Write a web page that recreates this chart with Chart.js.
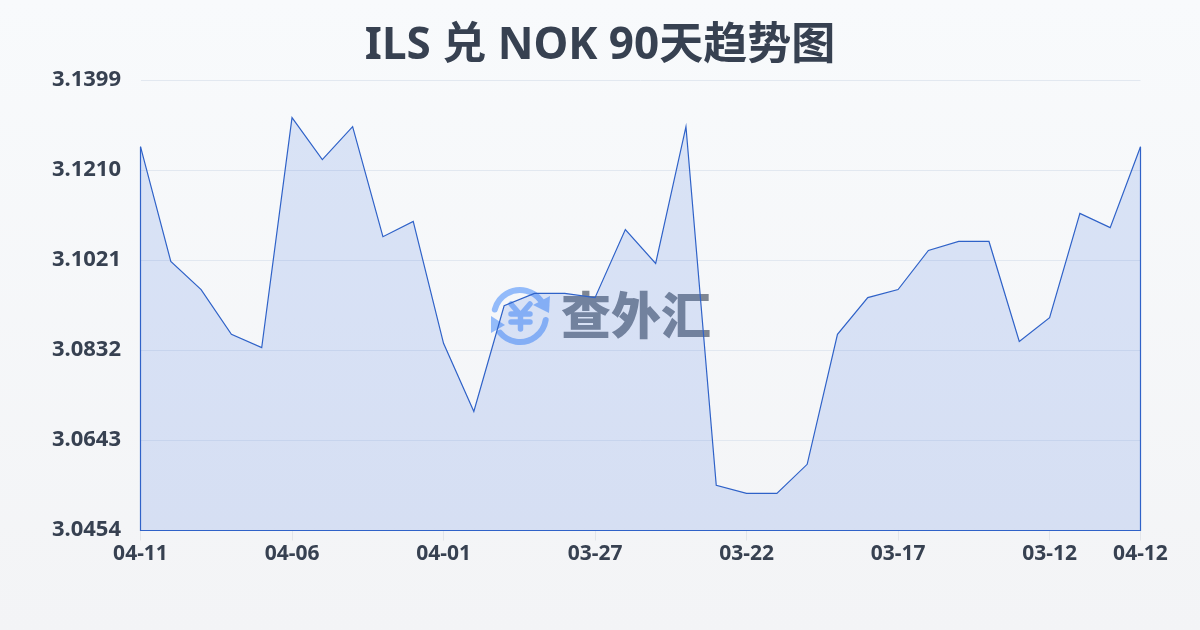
<!DOCTYPE html>
<html>
<head>
<meta charset="utf-8">
<title>ILS 兑 NOK 90天趋势图</title>
<script src="https://cdn.jsdelivr.net/npm/chart.js@4/dist/chart.umd.min.js"></script>
<style>
html,body{margin:0;padding:0;width:1200px;height:630px;overflow:hidden;background:linear-gradient(180deg,#f8fafc,#f3f4f6)}
canvas{display:block}
</style>
</head>
<body>
<canvas id="trend" width="1200" height="630"></canvas>
<script>
// =========================
// DATA
// =========================

let titleText="ILS 兑 NOK 90天趋势图"

let dates=[
"04-11","04-10","04-09","04-08","04-07","04-06","04-05","04-04","04-03","04-02",
"04-01","03-31","03-30","03-29","03-28","03-27","03-26","03-25","03-24","03-23",
"03-22","03-21","03-20","03-19","03-18","03-17","03-16","03-15","03-14","03-13",
"03-12","03-11","03-10","04-12"
]

let rates=[
3.1260,3.1019,3.0960,3.0866,3.0838,3.1321,3.1233,3.1302,3.1071,3.1103,
3.0847,3.0704,3.0926,3.0952,3.0952,3.0943,3.1086,3.1015,3.1302,3.0549,
3.0532,3.0532,3.0593,3.0866,3.0943,3.0960,3.1042,3.1061,3.1061,3.0851,
3.0901,3.1120,3.1090,3.1260
]

let yTicks=[3.0454,3.0643,3.0832,3.1021,3.1210,3.1399]
let xTickIndexes=[0,5,10,15,20,25,30,33]

let lineColor="#2f62c8"
let fillColor="rgba(47,98,220,0.15)"
let textColor="#374151"
let fontName="'Noto Sans','Noto Sans CJK SC',sans-serif"

// =========================
// PLUGINS
// =========================

// the area outline also runs down both sides and along the base
let closeOutline={
id:"closeOutline",
afterDatasetsDraw(chart){
let ctx=chart.ctx
let x=chart.scales.x
let y=chart.scales.y
let base=y.getPixelForValue(yTicks[0])
let last=rates.length-1
ctx.save()
ctx.strokeStyle=lineColor
ctx.lineWidth=1.2
ctx.beginPath()
ctx.moveTo(x.getPixelForValue(0),y.getPixelForValue(rates[0]))
ctx.lineTo(x.getPixelForValue(0),base)
ctx.lineTo(x.getPixelForValue(last),base)
ctx.lineTo(x.getPixelForValue(last),y.getPixelForValue(rates[last]))
ctx.stroke()
ctx.restore()
}
}

let watermark={
id:"watermark",
beforeDatasetsDraw(chart){
let ctx=chart.ctx
ctx.save()

// logo
ctx.strokeStyle="#93bbfa"
ctx.fillStyle="#93bbfa"
ctx.lineWidth=6
ctx.lineCap="round"
ctx.beginPath()
ctx.arc(520,316,26,Math.PI*1.08,Math.PI*1.8)
ctx.stroke()
ctx.beginPath()
ctx.arc(520,316,26,Math.PI*0.05,Math.PI*0.78)
ctx.stroke()
ctx.beginPath()
ctx.moveTo(550,296)
ctx.lineTo(549,313)
ctx.lineTo(533,305)
ctx.closePath()
ctx.fill()
ctx.beginPath()
ctx.moveTo(491,316)
ctx.lineTo(491,333)
ctx.lineTo(505,325)
ctx.closePath()
ctx.fill()

// yen sign
ctx.lineWidth=5.5
ctx.beginPath()
ctx.moveTo(511,304)
ctx.lineTo(520.5,315)
ctx.lineTo(530,304)
ctx.moveTo(520.5,315)
ctx.lineTo(520.5,329)
ctx.moveTo(511,314)
ctx.lineTo(530,314)
ctx.moveTo(511,322)
ctx.lineTo(530,322)
ctx.stroke()

// name
ctx.globalAlpha=0.75
ctx.fillStyle="#566070"
ctx.font="900 50px 'Noto Sans CJK SC'"
ctx.textAlign="left"
ctx.textBaseline="middle"
ctx.fillText("查外汇",561,315)

ctx.restore()
}
}

// =========================
// CHART
// =========================

new Chart(document.getElementById("trend"),{

type:"line",

data:{
labels:dates,
datasets:[{
data:rates,
borderColor:lineColor,
borderWidth:1.2,
backgroundColor:fillColor,
fill:"start",
tension:0,
pointRadius:0
}]
},

options:{
responsive:false,
animation:false,
plugins:{
legend:{display:false},
tooltip:{enabled:false},
title:{
display:true,
text:titleText,
color:textColor,
font:{family:fontName,size:44,weight:"bold",lineHeight:1.2},
padding:{top:20.5,bottom:7.2}
}
},
scales:{
x:{
grid:{drawOnChartArea:false,color:"#e2e5ea",tickLength:10},
border:{display:false},
afterBuildTicks(axis){
axis.ticks=xTickIndexes.map(i=>({value:i}))
},
afterFit(axis){axis.height=99.5},
ticks:{
autoSkip:false,
maxRotation:0,
padding:1,
color:textColor,
font:{family:fontName,size:21,weight:"bold"}
}
},
y:{
min:yTicks[0],
max:yTicks[yTicks.length-1],
grid:{color:"#e2e8f0",drawTicks:false},
border:{display:false},
afterBuildTicks(axis){
axis.ticks=yTicks.map(v=>({value:v}))
},
afterFit(axis){axis.width=140.5},
ticks:{
padding:19.5,
labelOffset:-1,
color:textColor,
font:{family:fontName,size:22,weight:"bold"},
callback:v=>v.toFixed(4)
}
},
// empty right axis keeps the plot clear of the right edge so the title stays centred
right:{
position:"right",
grid:{display:false},
border:{display:false},
ticks:{display:false},
afterFit(axis){axis.width=59.5}
}
}
},

plugins:[closeOutline,watermark]

})
</script>
</body>
</html>
